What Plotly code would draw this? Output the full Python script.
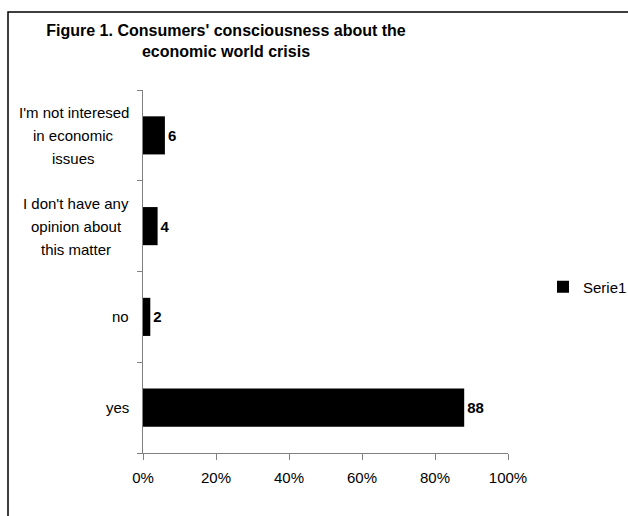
import plotly.graph_objects as go

categories = ["yes", "no", "I don't have any<br>opinion about<br>this matter",
              "I'm not interesed<br>in economic<br>issues"]
values = [88, 2, 4, 6]
series_name = "Serie1"
x_ticks = [0, 20, 40, 60, 80, 100]
x_tick_labels = ["0%", "20%", "40%", "60%", "80%", "100%"]
title_text = "Figure 1. Consumers' consciousness about the<br>economic world crisis"

FONT = "Liberation Sans, Arial, sans-serif"
W, H = 628, 516
L, R, T, B = 143, 120, 90, 63
pw, ph = W - L - R, H - T - B
LABEL_SIZE = 15
LABEL_RIGHT = 129  # px, right edge of category label blocks

# Arial / Liberation Sans advance widths (per 1000 em)
AW = {" ": 278, "'": 191, "I": 278, "a": 556, "b": 556, "c": 500, "d": 556,
      "e": 556, "f": 278, "g": 556, "h": 556, "i": 222, "j": 222, "k": 500,
      "l": 222, "m": 833, "n": 556, "o": 556, "p": 556, "q": 556, "r": 333,
      "s": 500, "t": 278, "u": 556, "v": 500, "w": 722, "x": 500, "y": 500, "z": 500}

def text_width(s, size):
    return sum(AW.get(ch, 556) for ch in s) * size / 1000.0

def px_to_paper_x(px):
    return (px - L) / pw

def py_to_paper_y(py):
    return (H - B - py) / ph

fig = go.Figure()
fig.add_trace(go.Bar(
    y=categories, x=values, orientation="h", name=series_name,
    marker=dict(color="black", line=dict(width=0)),
    width=0.42,
    text=[str(v) for v in values], textposition="outside",
    textfont=dict(family=FONT, size=15, color="black", weight="bold"),
    cliponaxis=False, showlegend=True,
))

annotations = []
line_gap = 23
for cat in categories:
    lines = cat.split("<br>")
    n = len(lines)
    block_w = max(text_width(ln, LABEL_SIZE) for ln in lines)
    center_px = LABEL_RIGHT - block_w / 2
    for i, ln in enumerate(lines):
        annotations.append(dict(
            x=0, xref="paper", y=cat, yref="y", text=ln,
            xanchor="center", yanchor="middle", showarrow=False,
            xshift=center_px - L, align="center",
            yshift=((n - 1) / 2 - i) * line_gap,
            font=dict(family=FONT, size=LABEL_SIZE, color="black"),
        ))

fig.update_layout(
    width=W, height=H,
    margin=dict(l=L, r=R, t=T, b=B, autoexpand=False),
    paper_bgcolor="white", plot_bgcolor="white",
    title=dict(text=title_text, x=226 / W, xanchor="center", xref="container",
               y=1 - 36 / H, yanchor="middle", yref="container",
               font=dict(family=FONT, size=16, color="black", weight="bold")),
    xaxis=dict(range=[0, 100], tickvals=x_ticks, ticktext=x_tick_labels,
               showgrid=False, zeroline=False, showline=True, linecolor="#808080",
               linewidth=1, ticks="outside", ticklen=6, tickcolor="#808080",
               ticklabelstandoff=5,
               tickfont=dict(family=FONT, size=15, color="black")),
    yaxis=dict(type="category", categoryorder="array", categoryarray=categories,
               showgrid=False, zeroline=False, showline=True, linecolor="#808080",
               linewidth=1, ticks="outside", ticklen=5, tickcolor="#808080",
               tickson="boundaries", showticklabels=False),
    legend=dict(x=px_to_paper_x(543), xanchor="left", y=py_to_paper_y(287),
                yanchor="middle", font=dict(family=FONT, size=15, color="black"),
                bgcolor="rgba(0,0,0,0)"),
    annotations=annotations,
    shapes=[dict(type="rect", xref="paper", yref="paper",
                 x0=px_to_paper_x(8), x1=px_to_paper_x(650),
                 y0=py_to_paper_y(540), y1=py_to_paper_y(12),
                 line=dict(color="black", width=1.5), fillcolor="rgba(0,0,0,0)",
                 layer="below")],
)

fig.write_html("out.html")
